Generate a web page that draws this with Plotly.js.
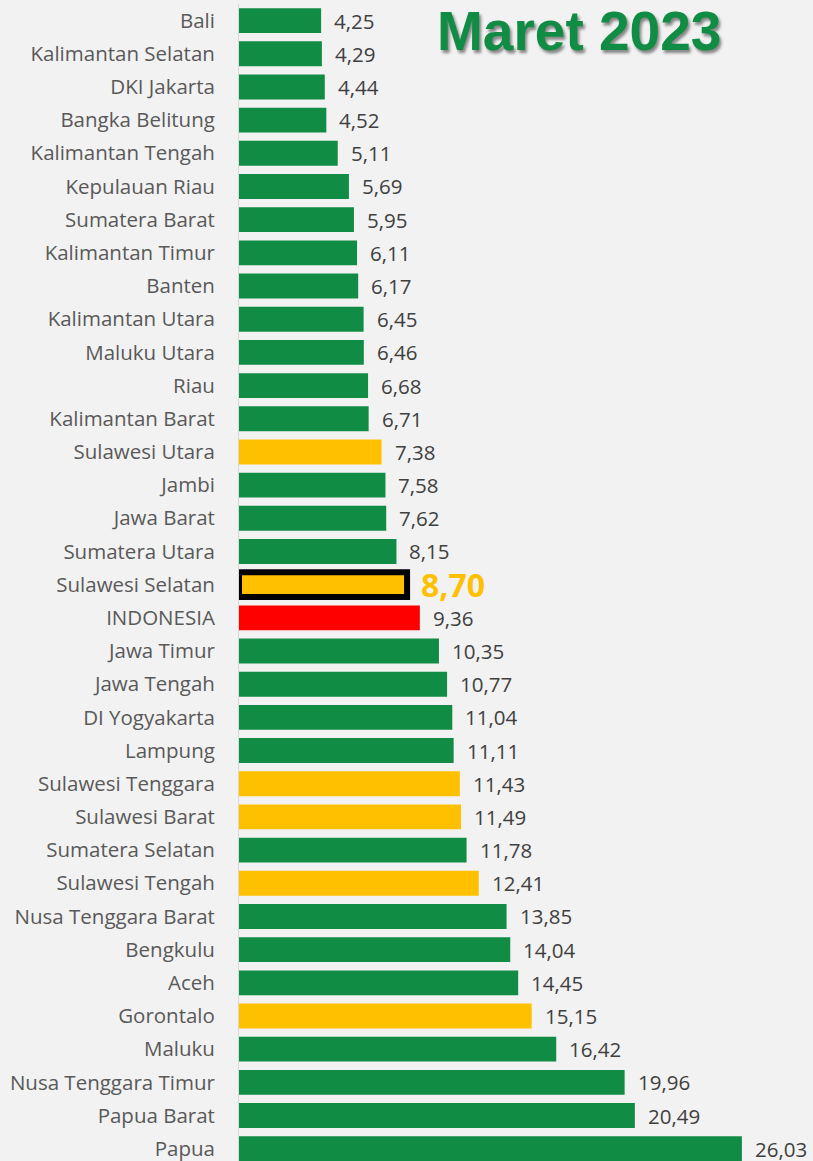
<!DOCTYPE html>
<html>
<head>
<meta charset="utf-8">
<script src="https://cdn.plot.ly/plotly-3.0.1.min.js"></script>
<style>html,body{margin:0;padding:0;background:#f2f2f2;}#chart{width:813px;height:1161px;}</style>
</head>
<body>
<div id="chart"></div>
<script>
const provinces = ["Bali","Kalimantan Selatan","DKI Jakarta","Bangka Belitung","Kalimantan Tengah","Kepulauan Riau","Sumatera Barat","Kalimantan Timur","Banten","Kalimantan Utara","Maluku Utara","Riau","Kalimantan Barat","Sulawesi Utara","Jambi","Jawa Barat","Sumatera Utara","Sulawesi Selatan","INDONESIA","Jawa Timur","Jawa Tengah","DI Yogyakarta","Lampung","Sulawesi Tenggara","Sulawesi Barat","Sumatera Selatan","Sulawesi Tengah","Nusa Tenggara Barat","Bengkulu","Aceh","Gorontalo","Maluku","Nusa Tenggara Timur","Papua Barat","Papua"];
const values = [4.25,4.29,4.44,4.52,5.11,5.69,5.95,6.11,6.17,6.45,6.46,6.68,6.71,7.38,7.58,7.62,8.15,8.70,9.36,10.35,10.77,11.04,11.11,11.43,11.49,11.78,12.41,13.85,14.04,14.45,15.15,16.42,19.96,20.49,26.03];
const sulawesiRegions = ["Sulawesi Utara","Sulawesi Selatan","Sulawesi Tenggara","Sulawesi Barat","Sulawesi Tengah","Gorontalo"];
const nationalLabel = "INDONESIA";
const focusRegion = "Sulawesi Selatan";
const chartTitle = "Maret 2023";

const GREEN = "#118C44", YELLOW = "#FFC000", RED = "#FF0000";
const colors = provinces.map(p => p === nationalLabel ? RED : (sulawesiRegions.includes(p) ? YELLOW : GREEN));
const lineWidths = provinces.map(p => p === focusRegion ? 6 : 0);
const fmt = v => v.toFixed(2).replace('.', ',');

const trace = {
  type: 'bar', orientation: 'h',
  x: values, y: provinces,
  marker: {color: colors, line: {color: '#000000', width: lineWidths}},
  hoverinfo: 'skip'
};

const annotations = provinces.map((p, i) => {
  const focus = p === focusRegion;
  return {
    x: values[i], y: p, xref: 'x', yref: 'y',
    text: fmt(values[i]), showarrow: false,
    xanchor: 'left', yanchor: 'middle', borderpad: 0,
    xshift: focus ? 13 : 12, yshift: 0,
    font: focus ? {family: 'Open Sans, sans-serif', size: 32, color: YELLOW, weight: 'bold'}
                : {family: 'Open Sans, sans-serif', size: 20.5, color: '#404040'}
  };
});
annotations.push({
  xref: 'paper', yref: 'paper', x: 0.593, y: 0.977,
  xanchor: 'center', yanchor: 'middle', showarrow: false,
  text: '<b>' + chartTitle + '</b>',
  font: {family: 'Liberation Sans Narrow, Arial Narrow, sans-serif', size: 55, color: GREEN,
         shadow: '2px 3px 3px rgba(0,0,0,0.45)'}
});

const layout = {
  width: 813, height: 1161,
  paper_bgcolor: '#f2f2f2', plot_bgcolor: '#f2f2f2',
  margin: {l: 239, r: 0, t: 4, b: 0, autoexpand: false},
  bargap: 0.25,
  showlegend: false,
  xaxis: {range: [0, 29.71], showgrid: false, zeroline: false, showline: false, showticklabels: false, ticks: '', fixedrange: true},
  yaxis: {type: 'category', categoryarray: provinces, categoryorder: 'array', range: [34.37, -0.5], autorange: false,
          showgrid: false, zeroline: false, showline: true, linecolor: '#d9d9d9', linewidth: 1,
          ticks: 'outside', ticklen: 19, tickcolor: 'rgba(0,0,0,0)', automargin: false,
          tickfont: {family: 'Open Sans, sans-serif', size: 20.5, color: '#595959'}},
  annotations: annotations
};

Plotly.newPlot('chart', [trace], layout, {staticPlot: true, displayModeBar: false});
</script>
</body>
</html>
